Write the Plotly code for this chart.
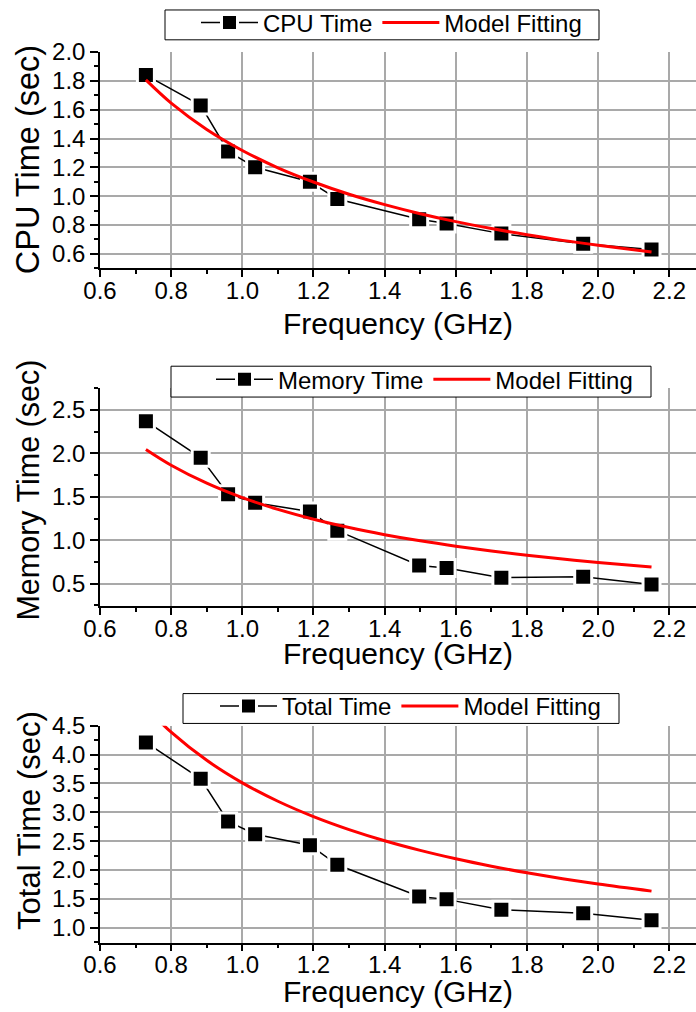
import plotly.graph_objects as go

# Measured run times versus CPU frequency
freq = [0.729, 0.883, 0.960, 1.036, 1.190, 1.267, 1.497, 1.574, 1.728, 1.958, 2.150]
cpu_time = [1.84, 1.63, 1.31, 1.20, 1.10, 0.98, 0.84, 0.81, 0.74, 0.67, 0.63]
mem_time = [2.37, 1.95, 1.53, 1.43, 1.33, 1.11, 0.71, 0.68, 0.57, 0.58, 0.49]
total_time = [4.21, 3.58, 2.84, 2.62, 2.43, 2.09, 1.54, 1.49, 1.31, 1.25, 1.13]

# Model-fitting curves sampled along the frequency range
fit_freq = [0.729, 0.8, 0.9, 1.0, 1.1, 1.2, 1.3, 1.4, 1.5, 1.6, 1.7, 1.8, 1.9, 2.0, 2.15]
cpu_fit = [1.807, 1.646, 1.463, 1.317, 1.197, 1.098, 1.013, 0.941, 0.878, 0.823,
           0.775, 0.732, 0.693, 0.659, 0.613]
mem_fit = [2.044, 1.863, 1.656, 1.490, 1.355, 1.242, 1.146, 1.064, 0.993, 0.931,
           0.876, 0.828, 0.784, 0.745, 0.693]
total_fit = [4.815, 4.388, 3.900, 3.510, 3.191, 2.925, 2.700, 2.507, 2.340, 2.194,
             2.065, 1.950, 1.847, 1.755, 1.633]

W, H = 696, 1012
FONT = "Liberation Sans, Arial, sans-serif"
GRID = "#a9a9a9"
XTITLE = "Frequency (GHz)"

# Per-panel settings (pixel positions measured from the top-left of the page)
panels = [
    dict(name="CPU Time", y=cpu_time, fit=cpu_fit, ytitle="CPU Time (sec)", tsize=32.5,
         ytitle_pos=(28, 156), xtitle_y=320, yrange=[0.5, 2.0], dtick=0.2, tick0=0.6,
         minor=0.1, top=47.3, bottom=264.5,
         box=(165, 5, 599, 35), leg_x=196),
    dict(name="Memory Time", y=mem_time, fit=mem_fit, ytitle="Memory Time (sec)", tsize=30.5,
         ytitle_pos=(29, 488), xtitle_y=652, yrange=[0.24, 2.75], dtick=0.5, tick0=0.5,
         minor=0.25, top=385, bottom=604.3,
         box=(171, 363, 651, 394), leg_x=211),
    dict(name="Total Time", y=total_time, fit=total_fit, ytitle="Total Time (sec)", tsize=31,
         ytitle_pos=(30, 820), xtitle_y=991, yrange=[0.74, 4.5], dtick=0.5, tick0=1.0,
         minor=0.25, top=724.3, bottom=942.3,
         box=(183, 692, 619, 722), leg_x=215),
]

fig = go.Figure()
layout = dict(
    width=W, height=H,
    margin=dict(l=0, r=0, t=0, b=0),
    paper_bgcolor="white", plot_bgcolor="white",
    font=dict(family=FONT, color="black"),
    showlegend=True,
)
shapes, annotations = [], []

for i, p in enumerate(panels, start=1):
    sfx = "" if i == 1 else str(i)
    leg = "legend" if i == 1 else f"legend{i}"
    fig.add_trace(go.Scatter(
        x=freq, y=p["y"], name=p["name"], mode="lines+markers",
        line=dict(color="black", width=1.5),
        marker=dict(symbol="square", size=17, color="black",
                    line=dict(color="white", width=3)),
        xaxis="x" + sfx, yaxis="y" + sfx, legend=leg,
    ))
    fig.add_trace(go.Scatter(
        x=fit_freq, y=p["fit"], name="Model Fitting", mode="lines",
        line=dict(color="#ff0000", width=3, shape="spline", smoothing=1.0),
        xaxis="x" + sfx, yaxis="y" + sfx, legend=leg,
    ))
    layout["xaxis" + sfx] = dict(
        domain=[100 / W, 1.0], range=[0.6, 2.275], anchor="y" + sfx,
        tick0=0.6, dtick=0.2, tickformat=".1f",
        ticks="outside", ticklen=7, tickwidth=1.5, tickcolor="black",
        minor=dict(ticks="outside", ticklen=4, tickwidth=1.5, dtick=0.1,
                   tick0=0.6, tickcolor="black", showgrid=False),
        showline=True, linecolor="black", linewidth=1.5,
        showgrid=True, gridcolor=GRID, gridwidth=1.5, zeroline=False,
        tickfont=dict(size=24, family=FONT, color="black"),
        ticklabelstandoff=-7,
        automargin=False,
    )
    layout["yaxis" + sfx] = dict(
        domain=[1 - p["bottom"] / H, 1 - p["top"] / H], range=p["yrange"], anchor="x" + sfx,
        tick0=p["tick0"], dtick=p["dtick"], tickformat=".1f",
        ticks="outside", ticklen=8, tickwidth=1.5, tickcolor="black",
        minor=dict(ticks="outside", ticklen=4, tickwidth=1.5, dtick=p["minor"],
                   tick0=p["tick0"], tickcolor="black", showgrid=False),
        showline=True, linecolor="black", linewidth=1.5,
        showgrid=True, gridcolor=GRID, gridwidth=1.5, zeroline=False,
        tickfont=dict(size=24, family=FONT, color="black"),
        automargin=False,
    )
    # axis titles
    tx, ty = p["ytitle_pos"]
    annotations.append(dict(
        text=p["ytitle"], textangle=-90, showarrow=False,
        xref="paper", yref="paper", x=tx / W, y=1 - ty / H,
        xanchor="center", yanchor="middle",
        font=dict(size=p["tsize"], family=FONT, color="black"),
    ))
    annotations.append(dict(
        text=XTITLE, showarrow=False,
        xref="x" + sfx + " domain", yref="paper", x=0.5, y=1 - p["xtitle_y"] / H,
        xanchor="center", yanchor="middle",
        font=dict(size=30, family=FONT, color="black"),
    ))
    # legend frame
    x0, y0, x1, y1 = p["box"]
    shapes.append(dict(
        type="rect", xref="paper", yref="paper", layer="above",
        x0=x0 / W, x1=x1 / W, y0=1 - y1 / H, y1=1 - y0 / H,
        line=dict(color="black", width=1), fillcolor="white",
    ))
    layout[leg] = dict(
        x=p["leg_x"] / W, y=1 - ((y0 + y1) / 2 - 2) / H, xanchor="left", yanchor="middle",
        xref="paper", yref="paper",
        orientation="h", bgcolor="rgba(0,0,0,0)", borderwidth=0,
        font=dict(size=24, family=FONT, color="black"),
        itemwidth=57, tracegroupgap=0,
    )

layout["shapes"] = shapes
layout["annotations"] = annotations
fig.update_layout(**layout)
fig.write_html("out.html")
